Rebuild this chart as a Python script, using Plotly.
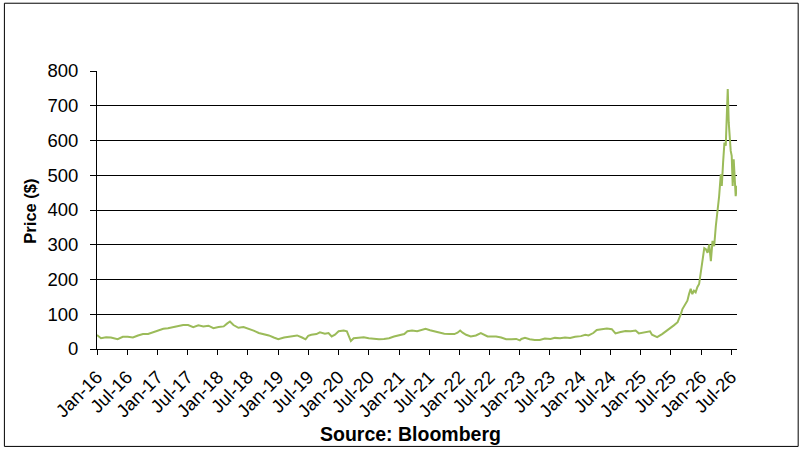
import plotly.graph_objects as go

dates = [
    "2016-01-01", "2016-01-25", "2016-02-25", "2016-03-25", "2016-05-05", "2016-06-05",
    "2016-07-05", "2016-08-05", "2016-09-05", "2016-10-05", "2016-11-05", "2016-12-05",
    "2017-01-05", "2017-02-05", "2017-03-05", "2017-04-05", "2017-05-05", "2017-06-05",
    "2017-07-05", "2017-08-05", "2017-09-05", "2017-10-05", "2017-11-05", "2017-12-05",
    "2018-01-05", "2018-02-05", "2018-02-25", "2018-03-15", "2018-04-05", "2018-05-05",
    "2018-06-05", "2018-07-05", "2018-08-05", "2018-09-05", "2018-10-05", "2018-11-05",
    "2018-12-05", "2019-01-01", "2019-02-05", "2019-03-05", "2019-04-05", "2019-04-25",
    "2019-05-25", "2019-06-15", "2019-07-01", "2019-07-20", "2019-08-20", "2019-09-10",
    "2019-10-10", "2019-11-01", "2019-11-20", "2019-12-10", "2020-01-01", "2020-02-01",
    "2020-02-20", "2020-03-05", "2020-03-15", "2020-04-01", "2020-05-01", "2020-06-01",
    "2020-07-01", "2020-08-01", "2020-09-01", "2020-10-01", "2020-11-01", "2020-12-01",
    "2021-01-07", "2021-02-01", "2021-02-20", "2021-03-20", "2021-04-20", "2021-05-20",
    "2021-06-10", "2021-07-07", "2021-08-01", "2021-09-01", "2021-10-01", "2021-11-01",
    "2021-12-01", "2021-12-20", "2022-01-05", "2022-01-20", "2022-02-10", "2022-03-10",
    "2022-04-10", "2022-05-10", "2022-06-01", "2022-06-20", "2022-07-10", "2022-08-10",
    "2022-09-10", "2022-10-10", "2022-11-10", "2022-12-10", "2023-01-01", "2023-01-10",
    "2023-02-01", "2023-03-01", "2023-04-01", "2023-05-01", "2023-06-01", "2023-07-05",
    "2023-08-01", "2023-09-01", "2023-10-01", "2023-11-01", "2023-12-01", "2024-01-05",
    "2024-02-01", "2024-02-20", "2024-03-20", "2024-04-10", "2024-05-10", "2024-06-10",
    "2024-07-10", "2024-08-01", "2024-09-01", "2024-10-01", "2024-11-01", "2024-12-01",
    "2024-12-20", "2025-01-10", "2025-02-10", "2025-02-26", "2025-03-10", "2025-04-01",
    "2025-04-10", "2025-05-10", "2025-06-10", "2025-07-05", "2025-07-20", "2025-08-12",
    "2025-08-22", "2025-09-01", "2025-09-10", "2025-09-20", "2025-09-30", "2025-10-10",
    "2025-10-20", "2025-10-30", "2025-11-09", "2025-11-19", "2025-11-29", "2025-12-09",
    "2025-12-20", "2025-12-31", "2026-01-10", "2026-01-20", "2026-01-30", "2026-02-09",
    "2026-02-19", "2026-03-01", "2026-03-11", "2026-03-21", "2026-03-31", "2026-04-10",
    "2026-04-20", "2026-04-30", "2026-05-06", "2026-05-14", "2026-05-22", "2026-05-30",
    "2026-06-05", "2026-06-11", "2026-06-17", "2026-06-23", "2026-06-29", "2026-07-05",
    "2026-07-11", "2026-07-17", "2026-07-23", "2026-07-29", "2026-08-06",
]

prices = [
    40, 31, 34, 33, 28, 35,
    35, 33, 39, 43, 43, 48,
    54, 58, 60, 63, 68, 69,
    69, 63, 68, 65, 67, 60,
    63, 65, 73, 79, 69, 61,
    63, 59, 53, 46, 43, 39,
    33, 28, 33, 35, 36, 39,
    33, 28, 38, 41, 43, 48,
    44, 46, 36, 41, 51, 53,
    51, 36, 23, 31, 33, 34,
    31, 29, 28, 29, 31, 36,
    39, 43, 51, 53, 51, 56,
    58, 54, 51, 47, 44, 43,
    43, 47, 53, 47, 41, 36,
    39, 46, 41, 36, 36, 36,
    33, 28, 28, 29, 25, 29,
    32, 28, 26, 26, 30, 29,
    32, 31, 33, 32, 35, 37,
    41, 39, 46, 55, 57, 59,
    57, 45, 49, 52, 51, 53,
    45, 47, 49, 51, 41, 35,
    34, 43, 53, 62, 68, 77,
    87, 101, 115, 123, 134, 139,
    158, 173, 158, 168, 163, 178,
    187, 225, 263, 290, 287, 277,
    301, 253, 311, 296, 354, 392,
    440, 503, 469, 537, 594, 585,
    690, 748, 652, 594, 570, 556,
    469, 546, 469, 440, 470,
]

y_ticks = [0, 100, 200, 300, 400, 500, 600, 700, 800]

FONT = "Liberation Sans, Arial, sans-serif"

fig = go.Figure()
fig.add_trace(go.Scatter(
    x=dates, y=prices, mode="lines",
    line=dict(color="#9BBB59", width=2),
    showlegend=False, hoverinfo="skip",
))

fig.update_layout(
    width=804, height=456,
    margin=dict(l=97, r=67, t=71, b=107),
    paper_bgcolor="white", plot_bgcolor="white",
    font=dict(family=FONT, color="black"),
    xaxis=dict(
        type="date",
        range=[dates[0], dates[-1]],
        tick0="2016-01-01", dtick="M6", tickformat="%b-%y",
        tickangle=-45,
        ticks="outside", ticklen=5, tickcolor="black", tickwidth=1,
        showline=True, linecolor="black", linewidth=1,
        showgrid=False, zeroline=False,
        tickfont=dict(family=FONT, size=18.5, color="black"),
        ticklabelstandoff=4,
        automargin=False,
    ),
    yaxis=dict(
        range=[0, 800], tickvals=y_ticks,
        ticks="outside", ticklen=6, tickcolor="black", tickwidth=1,
        showline=True, linecolor="black", linewidth=1,
        showgrid=True, gridcolor="black", gridwidth=1,
        zeroline=False,
        tickfont=dict(family=FONT, size=18.5, color="black"),
        ticklabelstandoff=8,
        automargin=False,
    ),
    annotations=[
        dict(text="<b>Price ($)</b>", xref="paper", yref="paper",
             x=-0.105, y=0.497, textangle=-90, showarrow=False,
             xanchor="center", yanchor="middle",
             font=dict(family=FONT, size=16.5, color="black")),
        dict(text="<b>Source: Bloomberg</b>", xref="paper", yref="paper",
             x=0.490, y=-0.307, showarrow=False,
             xanchor="center", yanchor="middle",
             font=dict(family=FONT, size=19.5, color="black")),
    ],
    shapes=[
        dict(type="rect", xref="paper", yref="paper",
             x0=-0.1447, x1=1.0956, y0=-0.3504, y1=1.2438,
             line=dict(color="black", width=1), fillcolor="rgba(0,0,0,0)",
             layer="below"),
    ],
)

fig.write_html("out.html", config={"displayModeBar": False},
               post_script="document.body.style.margin='0';")
